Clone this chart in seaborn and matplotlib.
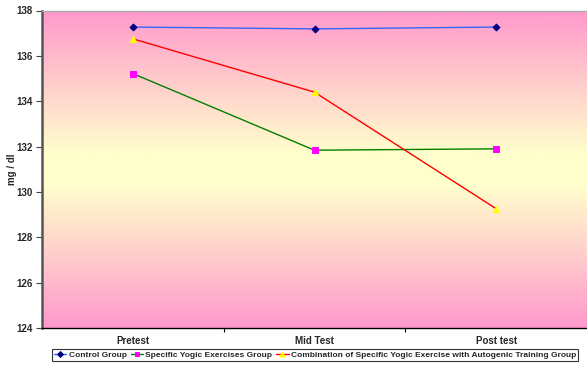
import numpy as np
import pandas as pd
import matplotlib
matplotlib.use("Agg")
import matplotlib.pyplot as plt
from matplotlib.colors import LinearSegmentedColormap
import seaborn as sns

categories = ["Pretest", "Mid Test", "Post test"]
control = [137.27, 137.19, 137.27]
specific_yogic = [135.22, 131.84, 131.90]
combination = [136.75, 134.40, 129.26]
series_names = [
    "Control Group",
    "Specific Yogic Exercises Group",
    "Combination of Specific Yogic Exercise with Autogenic Training Group",
]
y_ticks = [124, 126, 128, 130, 132, 134, 136, 138]

sns.set_theme(style="white")
plt.rcParams["font.family"] = ["Liberation Sans", "DejaVu Sans"]
plt.rcParams["font.weight"] = "bold"

fig = plt.figure(figsize=(5.87, 3.71), dpi=100)
ax = fig.add_axes([42 / 587, 1 - 328 / 371, 1 - 42 / 587, (328 - 10.5) / 371])

# pink -> pale yellow -> pink background fill
cmap = LinearSegmentedColormap.from_list(
    "bg", [(0.0, "#ff99cc"), (0.45, "#ffffcc"), (0.55, "#ffffcc"), (1.0, "#ff99cc")]
)
grad = np.linspace(0, 1, 256).reshape(-1, 1)
ax.imshow(grad, cmap=cmap, aspect="auto", extent=[0, 1, 0, 1],
          transform=ax.transAxes, zorder=0)

x = np.arange(len(categories))
styles = [
    (control, "#3366ff", "D", "#000080", 3.5),
    (specific_yogic, "#008000", "s", "#ff00ff", 3.8),
    (combination, "#ff0000", "^", "#ffff00", 4.2),
]
for (vals, lc, mk, mc, ms), name in zip(styles, series_names):
    df = pd.DataFrame({"x": x, "y": vals})
    sns.lineplot(data=df, x="x", y="y", ax=ax, color=lc, lw=1.0,
                 marker=mk, markersize=ms, markerfacecolor=mc,
                 markeredgecolor=mc, label=name, zorder=3)

ax.set_xlim(-0.5, len(categories) - 0.5)
ax.set_ylim(124, 138)
ax.set_yticks(y_ticks)
ax.set_yticklabels([str(t) for t in y_ticks], fontsize=7, fontweight="bold")
ax.set_xticks(x)
ax.set_xticklabels(categories, fontsize=7, fontweight="bold")
ax.set_xticks([0.5, 1.5], minor=True)
ax.tick_params(axis="x", which="major", length=0, pad=6)
ax.tick_params(axis="x", which="minor", length=3, width=0.8, color="black",
               direction="out", bottom=True)
ax.tick_params(axis="y", length=4, width=0.8, color="#444444",
               direction="out", left=True, pad=3)
ax.set_xlabel("")
ax.set_ylabel("")
fig.text(12 / 587, 1 - 169 / 371, "mg / dl", rotation=90, fontsize=7,
         fontweight="bold", ha="center", va="center")

ax.spines["left"].set_color("#555555")
ax.spines["left"].set_linewidth(1.8)
ax.spines["bottom"].set_color("black")
ax.spines["bottom"].set_linewidth(1.0)
ax.spines["top"].set_color("#aaaaaa")
ax.spines["top"].set_linewidth(1.0)
ax.spines["right"].set_visible(False)

leg = ax.legend(loc="center", bbox_to_anchor=(315 / 587, 1 - 355 / 371),
                bbox_transform=fig.transFigure, ncol=3, fontsize=6,
                frameon=True, fancybox=False, handlelength=1.5,
                handletextpad=0.25, columnspacing=0.5, borderpad=0.2,
                borderaxespad=0, markerscale=0.85)
leg.get_frame().set_edgecolor("black")
leg.get_frame().set_linewidth(0.8)
for t in leg.get_texts():
    t.set_fontweight("bold")

fig.savefig("out.png", dpi=100)
